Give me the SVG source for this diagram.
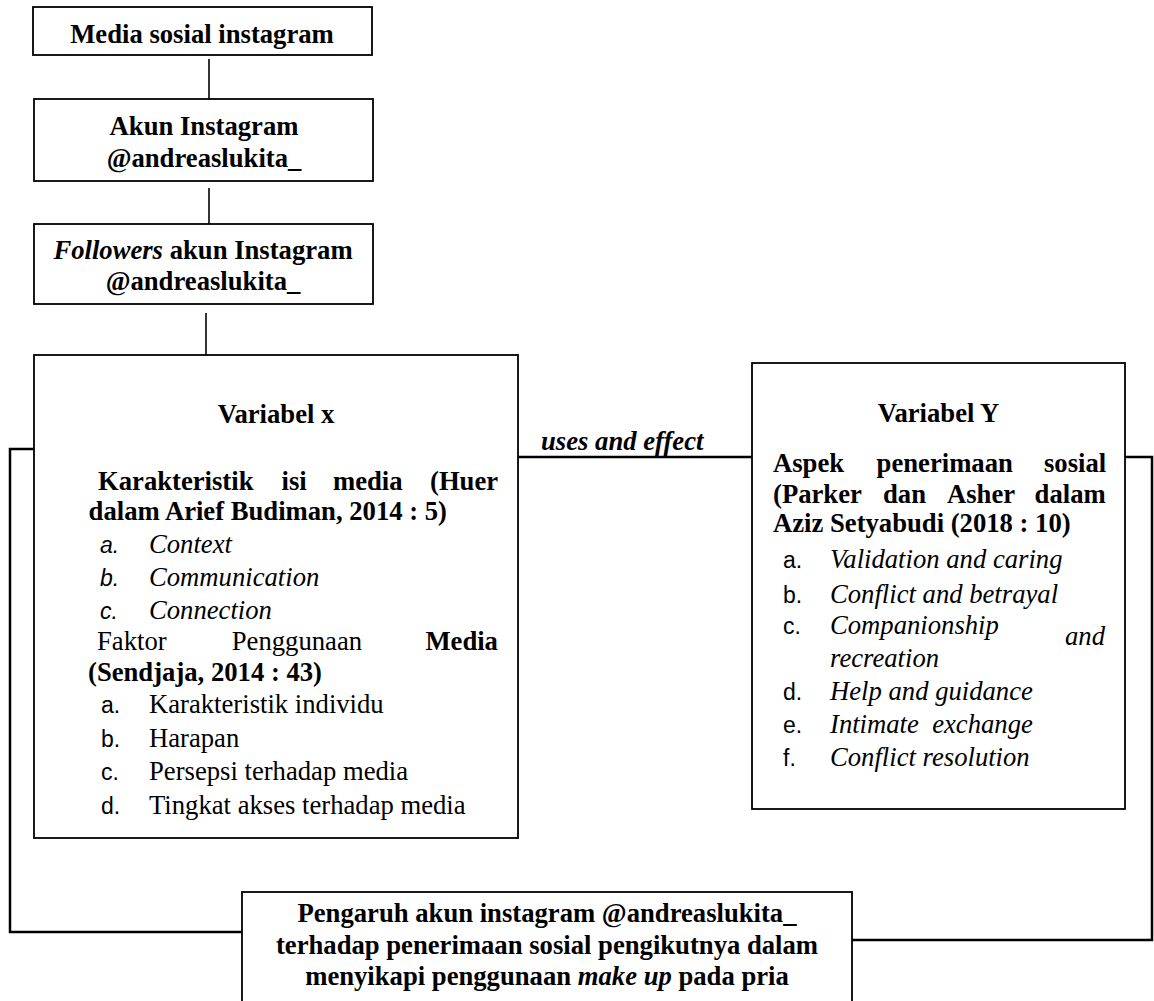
<svg xmlns="http://www.w3.org/2000/svg" width="1154" height="1001" viewBox="0 0 1154 1001">
<style>
.box{fill:#fff;stroke:#000;stroke-width:1.8}
.con{fill:none;stroke:#000;stroke-width:2.5}
.lnk{fill:none;stroke:#000;stroke-width:1.6}
text{font-family:"Liberation Serif","Times New Roman",serif;font-size:26.67px;fill:#000}
.b{font-weight:bold}
.i{font-style:italic}
.c{text-anchor:middle}
.m{font-family:"Liberation Sans",Arial,sans-serif;font-size:23px}
</style>
<g id="connectors">
<line class="lnk" x1="209" y1="59" x2="209" y2="106"/>
<line class="lnk" x1="209" y1="188" x2="209" y2="231"/>
<line class="lnk" x1="206" y1="313" x2="206" y2="360"/>
<line class="con" x1="518" y1="457" x2="752" y2="457"/>
<polyline class="con" points="34,449 10,449 10,932 242,932"/>
<polyline class="con" points="1125,457 1152,457 1152,940 852,940"/>
<text class="b i" x="541" y="450">uses and effect</text>
</g>
<g id="node-media">
<rect class="box" x="33" y="7" width="339" height="48"/>
<text class="b c" x="202" y="43">Media sosial instagram</text>
</g>
<g id="node-akun">
<rect class="box" x="34" y="99" width="339" height="82"/>
<text class="b c" x="204" y="135">Akun Instagram</text>
<text class="b c" x="204" y="167">@andreaslukita_</text>
</g>
<g id="node-followers">
<rect class="box" x="34" y="224" width="339" height="80"/>
<text class="b c" x="203" y="259"><tspan class="i">Followers</tspan> akun Instagram</text>
<text class="b c" x="203" y="290">@andreaslukita_</text>
</g>
<g id="node-variabel-x">
<rect class="box" x="34" y="355" width="484" height="483"/>
<text class="b c" x="276" y="423">Variabel x</text>
<text class="b" y="490"><tspan x="98">Karakteristik</tspan><tspan x="281.6">isi</tspan><tspan x="333">media</tspan><tspan x="430">(Huer</tspan></text>
<text class="b" x="88.6" y="520">dalam Arief Budiman, 2014 : 5)</text>
<text class="m i" x="100" y="553">a.</text><text class="i" x="149" y="553">Context</text>
<text class="m i" x="100" y="586">b.</text><text class="i" x="149" y="586">Communication</text>
<text class="m i" x="100" y="619">c.</text><text class="i" x="149" y="619">Connection</text>
<text y="650"><tspan x="97">Faktor</tspan><tspan x="231.8">Penggunaan</tspan><tspan class="b" x="425.4">Media</tspan></text>
<text class="b" x="88" y="681">(Sendjaja, 2014 : 43)</text>
<text class="m" x="101" y="713">a.</text><text x="149" y="713">Karakteristik individu</text>
<text class="m" x="101" y="747">b.</text><text x="149" y="747">Harapan</text>
<text class="m" x="101" y="780">c.</text><text x="149" y="780">Persepsi terhadap media</text>
<text class="m" x="101" y="814">d.</text><text x="149" y="814">Tingkat akses terhadap media</text>
</g>
<g id="node-variabel-y">
<rect class="box" x="752" y="363" width="373" height="446"/>
<text class="b c" x="938.5" y="422">Variabel Y</text>
<text class="b" y="472"><tspan x="773">Aspek</tspan><tspan x="876.6">penerimaan</tspan><tspan x="1044">sosial</tspan></text>
<text class="b" y="503"><tspan x="773">(Parker</tspan><tspan x="883">dan</tspan><tspan x="947">Asher</tspan><tspan x="1034.6">dalam</tspan></text>
<text class="b" x="773" y="532">Aziz Setyabudi (2018 : 10)</text>
<text class="m" x="783" y="568">a.</text><text class="i" x="830" y="568">Validation and caring</text>
<text class="m" x="783" y="603">b.</text><text class="i" x="830" y="603">Conflict and betrayal</text>
<text class="m" x="783" y="634">c.</text><text class="i" x="830" y="634">Companionship</text>
<text class="i" x="1065" y="645">and</text>
<text class="i" x="830" y="667">recreation</text>
<text class="m" x="783" y="700">d.</text><text class="i" x="830" y="700">Help and guidance</text>
<text class="m" x="783" y="733">e.</text><text class="i" x="830" y="733" xml:space="preserve">Intimate  exchange</text>
<text class="m" x="783" y="766">f.</text><text class="i" x="830" y="766">Conflict resolution</text>
</g>
<g id="node-pengaruh">
<rect class="box" x="242" y="892" width="610" height="130"/>
<text class="b c" x="547" y="922">Pengaruh akun instagram @andreaslukita_</text>
<text class="b c" x="547" y="954">terhadap penerimaan sosial pengikutnya dalam</text>
<text class="b c" x="547" y="985">menyikapi penggunaan <tspan class="i">make up</tspan> pada pria</text>
</g>
</svg>
